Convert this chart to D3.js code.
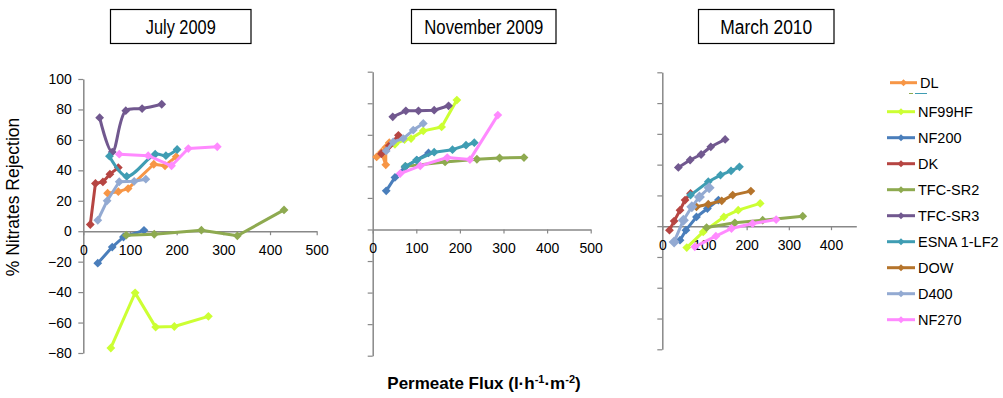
<!DOCTYPE html>
<html>
<head>
<meta charset="utf-8">
<script src="https://cdn.jsdelivr.net/npm/d3@7"></script>
<style>
  html, body { margin: 0; padding: 0; background: #fff; }
  svg { display: block; font-family: "Liberation Sans", Arial, sans-serif; }
</style>
</head>
<body>
<svg id="chart" width="1003" height="398"></svg>
<script>
// series in legend order
const seriesNames = ["DL", "NF99HF", "NF200", "DK", "TFC-SR2", "TFC-SR3", "ESNA 1-LF2", "DOW", "D400", "NF270"];
const seriesColors = ["#F79646", "#CCFF33", "#4A7EBB", "#B64542", "#8EAA50", "#71588F", "#3F9DB3", "#B5742B", "#93AAD2", "#FF8AFF"];

const yTicks = [-80, -60, -40, -20, 0, 20, 40, 60, 80, 100];
const xTicks = [0, 100, 200, 300, 400, 500];
const xTicksMarch = [0, 100, 200, 300, 400];

// [flux, % rejection]
const july2009 = [
  { name: "DL", points: [[52, 25], [75, 26], [96, 28], [151, 44], [175, 43], [199, 49]] },
  { name: "NF99HF", points: [[59, -76.7], [111, -40.5], [155, -63], [195, -62.6], [268, -55.9]] },
  { name: "NF200", points: [[31, -21], [62, -10.4], [86, -3.8], [130, 0.6]] },
  { name: "DK", points: [[15, 4.4], [26, 31.4], [42, 32.4], [57, 37.5], [75, 41.8]] },
  { name: "TFC-SR2", points: [[92, -2.6], [152, -2], [253, 0.7], [330, -3], [430, 14]] },
  { name: "TFC-SR3", points: [[35, 74.6], [62, 52], [91, 79.2], [126, 80.6], [168, 83.4]] },
  { name: "ESNA 1-LF2", points: [[56, 49.3], [93, 36], [154, 50.6], [177, 49.6], [201, 53.7]] },
  { name: "D400", points: [[31, 7.2], [51, 20], [77, 32.5], [109, 32.8], [134, 34.2]] },
  { name: "NF270", points: [[77, 50.6], [139, 49.6], [189, 43], [225, 54.3], [287, 55.5]] }
];

const november2009 = [
  { name: "DL", points: [[9, 46], [20, 49], [30, 41], [30, 52], [38, 55]] },
  { name: "NF99HF", points: [[51, 54], [73, 57], [88, 57.6], [116, 62.5], [158, 65], [193, 82]] },
  { name: "NF200", points: [[31, 24.5], [51, 33], [74, 39.6], [101, 44], [128, 48.5]] },
  { name: "DK", points: [[20, 48], [38, 53], [59, 59.7]] },
  { name: "TFC-SR2", points: [[75, 40], [166, 42.8], [239, 44.5], [291, 45.3], [347, 45.6]] },
  { name: "TFC-SR3", points: [[46, 71.4], [76, 75.2], [105, 75.2], [141, 75.6], [174, 78.4]] },
  { name: "ESNA 1-LF2", points: [[75, 40], [101, 44], [141, 49], [183, 50.6], [214, 53.4], [233, 55]] },
  { name: "D400", points: [[31, 49.8], [47, 55.5], [70, 57.6], [93, 63], [116, 67.2]] },
  { name: "NF270", points: [[63, 35.4], [109, 40.3], [171, 45.6], [223, 44.3], [287, 72.5]] }
];

const march2010 = [
  { name: "NF99HF", points: [[58, -13.9], [97, -3.7], [146, 6], [180, 10.4], [232, 14.8]] },
  { name: "NF200", points: [[42, -9.1], [56, -2.6], [81, 6], [107, 11.5], [133, 17]] },
  { name: "DK", points: [[17, -2.6], [28, 3.3], [42, 10.4], [54, 17], [67, 21.3]] },
  { name: "TFC-SR2", points: [[105, -0.9], [172, 2.2], [238, 3.9], [333, 6.5]] },
  { name: "TFC-SR3", points: [[38, 38.2], [66, 43], [92, 46.6], [115, 51.6], [149, 56.4]] },
  { name: "ESNA 1-LF2", points: [[67, 20.2], [109, 28.9], [138, 33.2], [163, 36], [183, 38.6]] },
  { name: "DOW", points: [[81, 12.6], [109, 14.3], [141, 16.5], [167, 20.2], [210, 22.8]] },
  { name: "D400", points: [[28, -10.2], [50, 3.9], [70, 12.6], [88, 19], [111, 25]] },
  { name: "NF270", points: [[77, -13.4], [127, -6.5], [164, -1.5], [214, 1.7], [270, 4.3]] }
];

// smoothed series (Excel "smoothed line" look), the rest are straight segments
const smoothSeries = ["July 2009|TFC-SR3", "July 2009|ESNA 1-LF2"];

const panels = [
  { title: "July 2009", data: july2009, left: 83.3, right: 316.7, xMax: 500, xTicks: xTicks, top: 79, bottom: 353, yLabels: true, box: [110.5, 9.5, 251, 43.5], titleWidth: 70 },
  { title: "November 2009", data: november2009, left: 372.7, right: 590.7, xMax: 500, xTicks: xTicks, top: 71.7, bottom: 355.7, yLabels: false, box: [411.5, 9.5, 556, 43.5], titleWidth: 119 },
  { title: "March 2010", data: march2010, left: 662.3, right: 856.3, xMax: 460, xTicks: xTicksMarch, top: 72.3, bottom: 349.3, yLabels: false, box: [698.5, 9.5, 834, 43.5], titleWidth: 92 }
];

const svg = d3.select("#chart");
const color = d3.scaleOrdinal().domain(seriesNames).range(seriesColors);
const axisGrey = "#888888";

function diamond(r) {
  return `M0,${-r}L${r},0L0,${r}L${-r},0Z`;
}

panels.forEach((p, pi) => {
  const x = d3.scaleLinear().domain([0, p.xMax]).range([p.left, p.right]);
  const y = d3.scaleLinear().domain([-80, 100]).range([p.bottom, p.top]);

  // title box
  const [bx0, by0, bx1, by1] = p.box;
  svg.append("rect")
    .attr("x", bx0).attr("y", by0)
    .attr("width", bx1 - bx0).attr("height", by1 - by0)
    .attr("fill", "#fff").attr("stroke", "#000").attr("stroke-width", 1.2);
  svg.append("text")
    .attr("x", (bx0 + bx1) / 2).attr("y", (by0 + by1) / 2 + 7)
    .attr("text-anchor", "middle")
    .attr("textLength", p.titleWidth)
    .attr("lengthAdjust", "spacingAndGlyphs")
    .style("font-family", "'Liberation Sans Narrow', 'Arial Narrow', 'Liberation Sans', sans-serif")
    .style("font-size", "20px")
    .text(p.title);

  // y axis
  const yAxis = d3.axisLeft(y).tickValues(yTicks).tickSize(5).tickSizeOuter(0).tickPadding(6.5);
  if (!p.yLabels) yAxis.tickFormat("");
  const gy = svg.append("g").attr("transform", `translate(${x(0)},0)`).call(yAxis);

  // x axis through zero
  const xAxis = d3.axisBottom(x).tickValues(p.xTicks).tickSize(4).tickSizeOuter(0).tickPadding(10);
  const gx = svg.append("g").attr("transform", `translate(0,${y(0)})`).call(xAxis);

  [gy, gx].forEach((g) => {
    g.select(".domain").attr("stroke", axisGrey).attr("stroke-width", 1.5);
    g.selectAll(".tick line").attr("stroke", axisGrey).attr("stroke-width", 1.2);
    g.selectAll(".tick text").attr("fill", "#000").style("font-size", "14px")
      .style("font-family", "'Liberation Sans', Arial, sans-serif");
  });

  const straight = d3.line().x((d) => x(d[0])).y((d) => y(d[1]));
  const smooth = d3.line().x((d) => x(d[0])).y((d) => y(d[1])).curve(d3.curveCatmullRom.alpha(0.5));

  const g = svg.append("g");
  p.data.forEach((s) => {
    const gen = smoothSeries.includes(p.title + "|" + s.name) ? smooth : straight;
    g.append("path")
      .attr("d", gen(s.points))
      .attr("fill", "none")
      .attr("stroke", color(s.name))
      .attr("stroke-width", 3)
      .attr("stroke-linejoin", "round");
    const r = (pi === 2 && s.name === "D400") ? 5.5 : 4.4;
    g.selectAll(null)
      .data(s.points)
      .join("path")
      .attr("transform", (d) => `translate(${x(d[0])},${y(d[1])})`)
      .attr("d", diamond(r))
      .attr("fill", color(s.name));
  });
});

// y axis title
svg.append("text")
  .attr("transform", "translate(19,197) rotate(-90)")
  .attr("text-anchor", "middle")
  .style("font-size", "17.5px")
  .text("% Nitrates Rejection");

// x axis title
const xt = svg.append("text")
  .attr("x", 484).attr("y", 389)
  .attr("text-anchor", "middle")
  .style("font-size", "17px")
  .style("font-weight", "bold");
xt.append("tspan").text("Permeate Flux (l·h");
xt.append("tspan").attr("dy", -6).style("font-size", "11px").text("-1");
xt.append("tspan").attr("dy", 6).text("·m");
xt.append("tspan").attr("dy", -6).style("font-size", "11px").text("-2");
xt.append("tspan").attr("dy", 6).text(")");

// legend
const legend = svg.append("g");
seriesNames.forEach((name, i) => {
  const cy = i === 0 ? 82.7 : 111.7 + (i - 1) * 26;
  const lx0 = i === 0 ? 890 : 887;
  const lx1 = i === 0 ? 917 : 915;
  legend.append("line")
    .attr("x1", lx0).attr("x2", lx1).attr("y1", cy).attr("y2", cy)
    .attr("stroke", color(name)).attr("stroke-width", 3);
  legend.append("path")
    .attr("transform", `translate(${(lx0 + lx1) / 2},${cy})`)
    .attr("d", diamond(3.5))
    .attr("fill", color(name));
  legend.append("text")
    .attr("x", lx1 + 3).attr("y", cy + 5)
    .style("font-size", "14.5px")
    .text(name);
});
// little leftover marks under the DL entry
legend.append("line").attr("x1", 909).attr("x2", 913).attr("y1", 93.5).attr("y2", 93.5)
  .attr("stroke", "#8EAA50").attr("stroke-width", 1);
legend.append("line").attr("x1", 915).attr("x2", 927).attr("y1", 93.5).attr("y2", 93.5)
  .attr("stroke", "#3F9DB3").attr("stroke-width", 1);
</script>
</body>
</html>
